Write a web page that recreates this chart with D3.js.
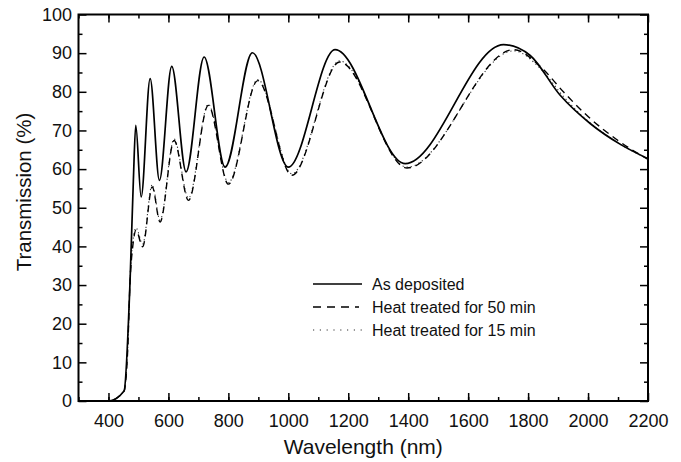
<!DOCTYPE html>
<html>
<head>
<meta charset="utf-8">
<script src="https://cdn.jsdelivr.net/npm/d3@7"></script>
<style>
  body { margin: 0; background: #fff; }
  svg { font-family: 'Liberation Sans', Arial, Helvetica, sans-serif; }
</style>
</head>
<body>
<script>
const [w, h] = [681, 462];
const margin = { top: 14.5, right: 33, bottom: 61, left: 78.5 };

// wavelength (nm) / transmission (%)
const wl_asdep = [300, 350, 400, 452, 472, 483, 491, 509, 539, 570, 611, 659, 719, 789, 880, 1000, 1156, 1390, 1718, 1807, 1907, 2007, 2108, 2200];
const t_asdep = [0, 0, 0, 2.6, 31, 57, 71.3, 52.8, 83.4, 57.1, 86.6, 59.3, 89.0, 60.5, 90.1, 60.5, 90.9, 61.4, 92.2, 89.4, 79.1, 71.8, 66.4, 62.7];

const wl_50min = [300, 350, 400, 452, 464, 472, 481, 492, 514, 546, 572, 619, 667, 733, 800, 898, 1012, 1171, 1396, 1752, 1840, 1920, 2000, 2100, 2200];
const t_50min = [0, 0, 0, 2.6, 13, 31, 40, 44.2, 39.9, 55.4, 46.3, 67.4, 51.9, 76.5, 56.1, 82.9, 58.4, 87.7, 60.3, 90.9, 86.6, 79.8, 73.6, 67.4, 62.5];

const wl_15min = [300, 350, 400, 452, 464, 472, 481, 492, 514, 546, 572, 619, 667, 733, 800, 898, 1012, 1171, 1396, 1752, 1840, 1920, 2000, 2100, 2200];
const t_15min = [0, 0, 0, 2.6, 13.5, 31.5, 41, 44.8, 40.6, 56, 46.8, 67.8, 52.5, 76.8, 56.5, 83.2, 58.8, 88, 60.5, 90.6, 86.1, 78.6, 72.4, 66.8, 62.6];

const series_names = ['As deposited', 'Heat treated for 50 min', 'Heat treated for 15 min'];
const x_ticks = [400, 600, 800, 1000, 1200, 1400, 1600, 1800, 2000, 2200];
const y_ticks = [0, 10, 20, 30, 40, 50, 60, 70, 80, 90, 100];

const series = [
  { name: series_names[0], pts: wl_asdep.map((d, i) => [d, t_asdep[i]]), width: 1.7, dash: null, color: '#000' },
  { name: series_names[1], pts: wl_50min.map((d, i) => [d, t_50min[i]]), width: 1.4, dash: '7,5', color: '#000' },
  { name: series_names[2], pts: wl_15min.map((d, i) => [d, t_15min[i]]), width: 1.1, dash: '1.2,3', color: '#333' }
];

const x = d3.scaleLinear().domain([300, 2200]).range([margin.left, w - margin.right]);
const y = d3.scaleLinear().domain([0, 100]).range([h - margin.bottom, margin.top]);

const svg = d3.select('body').append('svg').attr('width', w).attr('height', h);

// inward ticks on all four sides, majors + minors
let addAxis = (axis, tx, ty, size, pad, labels) => {
  const g = svg.append('g').attr('transform', `translate(${tx},${ty})`)
    .call(axis.tickSizeInner(size).tickSizeOuter(0).tickPadding(pad));
  g.select('.domain').remove();
  g.selectAll('line').attr('stroke-width', 1.5);
  g.selectAll('text').attr('font-size', 18).attr('fill', '#111');
  if (!labels) g.selectAll('text').remove();
  return g;
};

const xb = y(0), xt = y(100), yl = x(300), yr = x(2200);
addAxis(d3.axisBottom(x).tickValues(x_ticks).tickFormat(d3.format('d')), 0, xb, -8, 13, true);
addAxis(d3.axisBottom(x).tickValues(d3.range(300, 2200, 100)), 0, xb, -4, 0, false);
addAxis(d3.axisTop(x).tickValues(x_ticks), 0, xt, -8, 0, false);
addAxis(d3.axisTop(x).tickValues(d3.range(300, 2200, 100)), 0, xt, -4, 0, false);
addAxis(d3.axisLeft(y).tickValues(y_ticks).tickFormat(d3.format('d')), yl, 0, -8, 6.5, true);
addAxis(d3.axisLeft(y).tickValues(d3.range(5, 100, 10)), yl, 0, -4, 0, false);
addAxis(d3.axisRight(y).tickValues(y_ticks), yr, 0, -8, 0, false);
addAxis(d3.axisRight(y).tickValues(d3.range(5, 100, 10)), yr, 0, -4, 0, false);

const line = d3.line().x(d => x(d[0])).y(d => y(d[1])).curve(d3.curveMonotoneX);

svg.selectAll('path.curve')
  .data(series.slice().reverse())
  .enter()
  .append('path')
  .attr('class', 'curve')
  .attr('d', d => line(d.pts))
  .attr('fill', 'none')
  .attr('stroke', d => d.color)
  .attr('stroke-width', d => d.width)
  .attr('stroke-dasharray', d => d.dash)
  .attr('stroke-linejoin', 'round');

svg.append('rect')
  .attr('x', yl).attr('y', xt)
  .attr('width', yr - yl).attr('height', xb - xt)
  .attr('fill', 'none').attr('stroke', '#000').attr('stroke-width', 2);

// legend
const legend = svg.append('g').attr('transform', 'translate(313,284)');
const item = legend.selectAll('g')
  .data(series)
  .enter()
  .append('g')
  .attr('transform', (d, i) => `translate(0,${i * 23})`);

item.append('line')
  .attr('x1', 0).attr('x2', (d, i) => i == 1 ? 46 : 49)
  .attr('y1', 0).attr('y2', 0)
  .attr('stroke', d => d.color)
  .attr('stroke-width', d => d.width)
  .attr('stroke-dasharray', (d, i) => i == 1 ? '8,6' : (i == 2 ? '1.2,5.6' : null));

item.append('text')
  .attr('x', 59).attr('y', 5.5)
  .attr('font-size', 16)
  .attr('fill', '#111')
  .text(d => d.name);

// axis titles
svg.append('text')
  .attr('x', (yl + yr) / 2).attr('y', 454)
  .attr('text-anchor', 'middle')
  .attr('font-size', 21)
  .attr('fill', '#111')
  .text('Wavelength (nm)');

svg.append('text')
  .attr('transform', 'translate(31,192) rotate(-90)')
  .attr('text-anchor', 'middle')
  .attr('font-size', 20.5)
  .attr('fill', '#111')
  .text('Transmission (%)');
</script>
</body>
</html>
